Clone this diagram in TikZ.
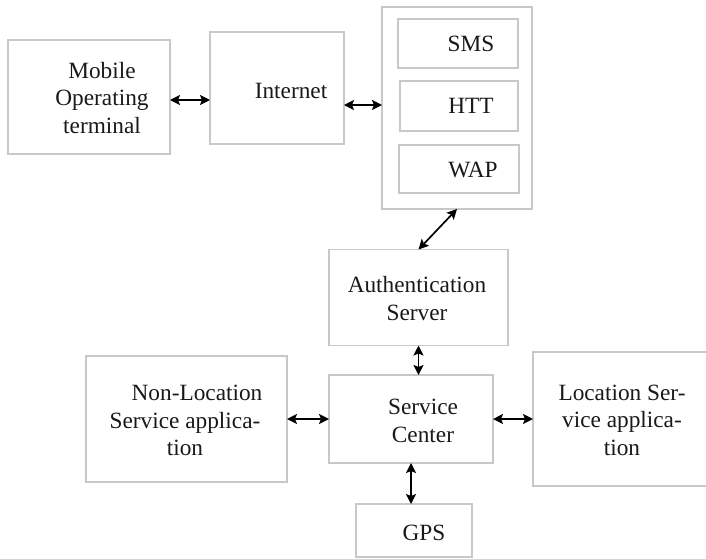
\documentclass[tikz,border=0pt]{standalone}
\usepackage{fontspec}
\setmainfont{Liberation Serif}
\usetikzlibrary{arrows.meta}
\definecolor{boxgray}{RGB}{200,200,200}
\definecolor{inkgray}{RGB}{25,25,25}
\begin{document}
\begin{tikzpicture}[x=1pt,y=-1pt,
  box/.style={draw=boxgray, line width=1.3pt, inner sep=0pt, outer sep=0pt},
  txt/.style={inner sep=0pt, text=inkgray, align=center,
    font=\fontsize{23.3}{27.5}\selectfont},
  tip/.tip={Stealth[length=10pt,width=10pt,inset=2pt]},
  arr/.style={draw=black, line width=1.7pt, tip-tip}]
\useasboundingbox (0,0) rectangle (706,558);
\fill[white] (0,0) rectangle (706,558);

% boxes
\node[box, minimum width=162pt, minimum height=114pt] (mob) at (89,97) {};
\node[box, minimum width=134pt, minimum height=112pt] (net) at (277,88) {};
\node[box, minimum width=150pt, minimum height=202pt] (outer) at (457,108) {};
\node[box, minimum width=120pt, minimum height=49pt] (sms) at (458,43.5) {};
\node[box, minimum width=118pt, minimum height=50pt] (htt) at (459,106) {};
\node[box, minimum width=120pt, minimum height=48pt] (wap) at (459,169) {};
\node[box, minimum width=179pt, minimum height=96pt] (auth) at (418.5,297.5) {};
\node[box, minimum width=164pt, minimum height=88pt] (svc) at (411,419) {};
\node[box, minimum width=201pt, minimum height=126pt] (nonloc) at (186.5,419) {};
\node[box, minimum width=175pt, minimum height=134pt] (loc) at (620.5,419) {};
\node[box, minimum width=116pt, minimum height=53pt] (gps) at (414,530.5) {};

% labels (anchored at the baseline of the last line)
\node[txt, anchor=base] (tmob) at (102,133) {Mobile\\Operating\\terminal};
\node[txt, anchor=base] (tnet) at (291,98) {Internet};
\node[txt, anchor=base] (tsms) at (471,51) {SMS};
\node[txt, anchor=base] (thtt) at (471,113) {HTT};
\node[txt, anchor=base] (twap) at (473,177) {WAP};
\node[txt, anchor=base] (tauth) at (417,320) {Authentication\\Server};
\node[txt, anchor=base] (tsvc) at (423,442) {Service\\Center};
\node[txt, anchor=base] (tnonloc) at (185,455.5) {\hspace*{24pt}Non-Location\\Service applica-\\tion};
\node[txt, anchor=base] (tloc) at (622,455) {Location Ser-\\vice applica-\\tion};
\node[txt, anchor=base] (tgps) at (424,540) {GPS};

% connectors
\draw[arr] (mob.east |- 0,100) -- (net.west |- 0,100);
\draw[arr] (net.east |- 0,105) -- (outer.west |- 0,105);
\draw[arr] (outer.south) -- (auth.north);
\draw[arr] (auth.south) -- (auth.south |- svc.north);
\draw[arr] (nonloc.east) -- (svc.west);
\draw[arr] (svc.east) -- (loc.west);
\draw[arr] (svc.south) -- (svc.south |- gps.north);
\end{tikzpicture}
\end{document}
